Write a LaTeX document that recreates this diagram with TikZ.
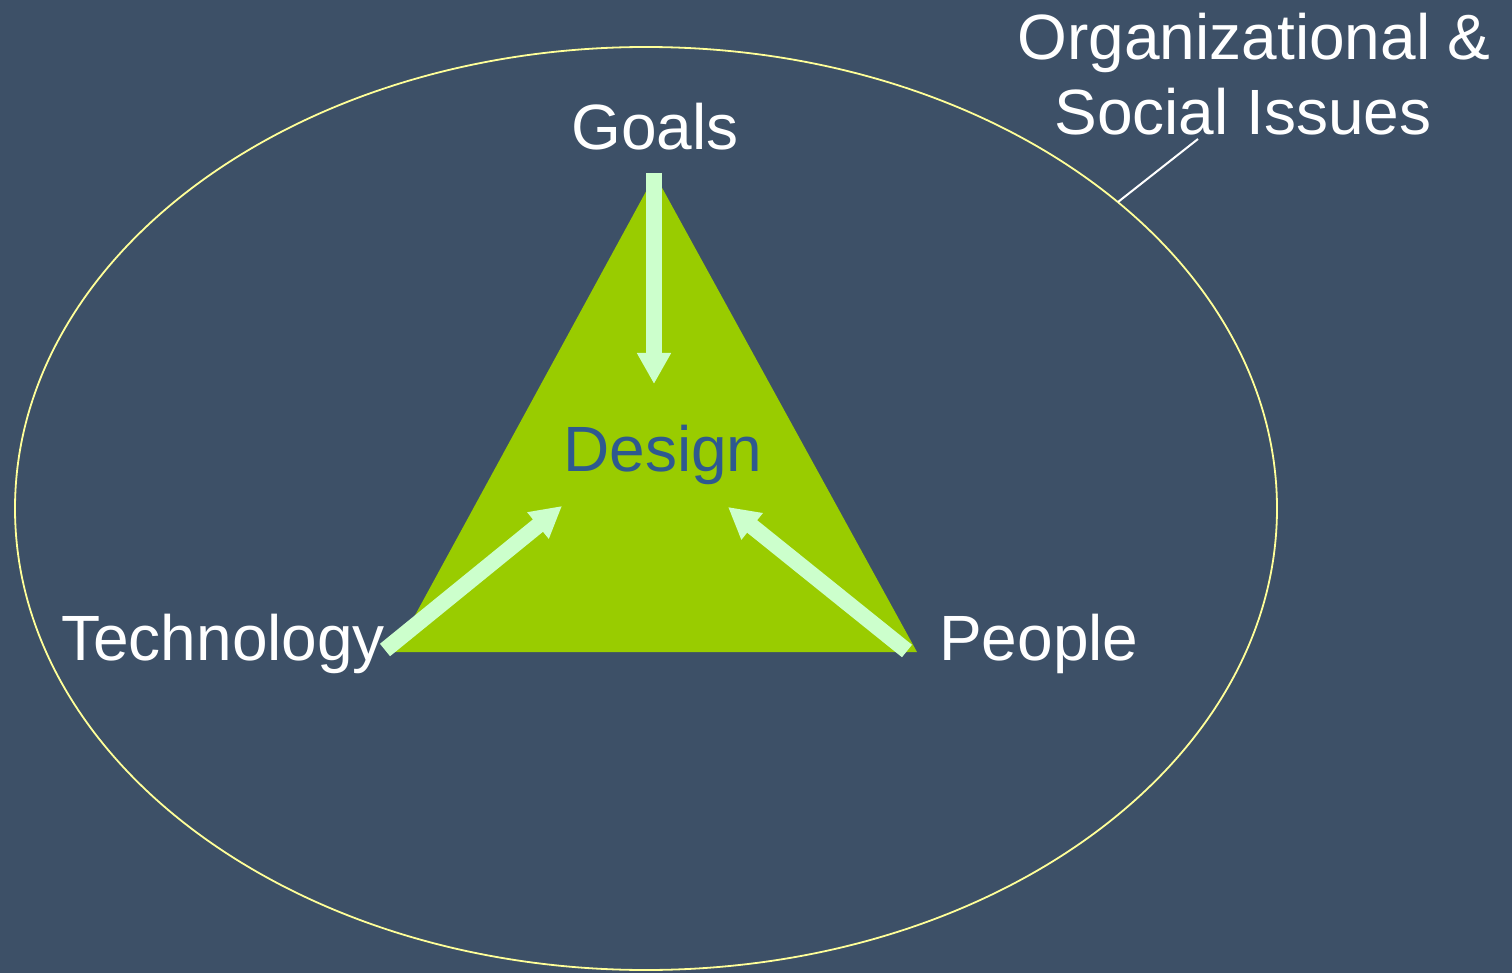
\documentclass[tikz,border=0pt]{standalone}
\usepackage{fontspec}
\setmainfont{Liberation Sans}
\usetikzlibrary{arrows.meta}
\definecolor{bgslate}{RGB}{61,80,103}
\definecolor{trigreen}{RGB}{153,204,0}
\definecolor{paleflow}{RGB}{204,255,204}
\definecolor{ringyellow}{RGB}{255,255,153}
\definecolor{designblue}{RGB}{46,89,143}
\begin{document}
\begin{tikzpicture}[x=1pt,y=-1pt,
  lbl/.style={inner sep=0pt, text=white, font=\fontsize{64}{76}\selectfont},
  flow/.style={draw=paleflow, line width=16pt, line cap=butt,
    -{Triangle[width=32pt,length=31pt]}}]
  % canvas
  \fill[bgslate] (0,0) rectangle (1512,973);
  \useasboundingbox (0,0) rectangle (1512,973);
  % organizational context ring
  \draw[ringyellow, line width=1.8pt] (646,508.5) ellipse [x radius=631, y radius=461.5];
  % design triangle
  \coordinate (apex) at (655,175);
  \coordinate (bl) at (395,652);
  \coordinate (br) at (917,652);
  \fill[trigreen] (apex) -- (bl) -- (br) -- cycle;
  % labels
  \node[lbl, anchor=base] (goals) at (655,150) {Goals};
  \node[lbl, anchor=base west] (tech) at (61,660) {Technology};
  \node[lbl, anchor=base west] (people) at (939,660) {People};
  \node[lbl, anchor=base, text=designblue] (design) at (663,471) {Design};
  \node[lbl, anchor=base east] (org1) at (1491,60) {Organizational \&};
  \node[lbl, anchor=base] (org2) at (1243,135) {Social Issues};
  % arrow ends
  \coordinate (gtail) at (654,173);
  \coordinate (ghead) at (654,384);
  \coordinate (ttail) at (385,650);
  \coordinate (thead) at (562,506);
  \coordinate (ptail) at (907,651);
  \coordinate (phead) at (728,507);
  \draw[flow] (gtail) -- (ghead);
  \draw[flow] (ttail) -- (thead);
  \draw[flow] (ptail) -- (phead);
  % callout from the label to the ring
  \coordinate (ringpt) at (1118,202);
  \coordinate (callend) at (1198,139);
  \draw[white, line width=2pt] (ringpt) -- (callend);
\end{tikzpicture}
\end{document}
